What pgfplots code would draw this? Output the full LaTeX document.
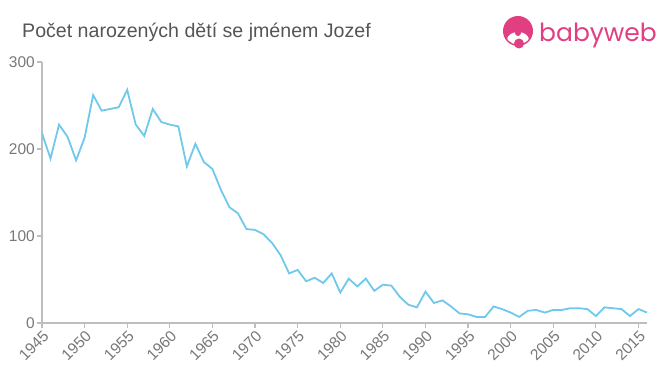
\documentclass[border=0pt]{standalone}
\usepackage{fontspec}
\setmainfont{Liberation Sans}
\newfontfamily\logofont{Poppins}
\usepackage{pgfplots}
\pgfplotsset{compat=1.18}
\definecolor{linec}{RGB}{112,201,234}
\definecolor{axisc}{RGB}{190,190,190}
\definecolor{textc}{RGB}{85,85,85}
\definecolor{tickc}{RGB}{120,120,120}
\definecolor{pinkc}{RGB}{226,62,130}
\begin{document}
\begin{tikzpicture}
\useasboundingbox (0pt,0pt) rectangle (660pt,375pt);
\node[anchor=base west, inner sep=0, text=textc, font=\fontsize{19.6}{22}\selectfont] at (22pt,337pt) {Počet narozených dětí se jménem Jozef};
% logo
\fill[pinkc] (518pt,344pt) circle (15pt);
\begin{scope}
\clip (518pt,344pt) circle (13.5pt);
\fill[white] (518pt,335pt) ellipse (11pt and 8pt);
\end{scope}
\fill[pinkc] (518pt,342pt) circle (3pt);
\fill[pinkc] (519pt,331.5pt) circle (5pt);
\node[anchor=base west, inner sep=0, text=pinkc, font=\logofont\fontsize{25}{28}\selectfont] at (539pt,333pt) {babyweb};
\begin{axis}[
  at={(42pt,52pt)}, anchor=south west,
  scale only axis, width=605pt, height=261pt,
  xmin=1945, xmax=2016, ymin=0, ymax=300,
  axis x line=bottom, axis y line=left,
  axis line style={-, axisc, line width=1.5pt},
  xtick={1945,1950,...,2015}, ytick={0,100,200,300},
  tick style={axisc, line width=1.2pt},
  tick align=outside, major tick length=5pt,
  x tick label style={rotate=45, anchor=north east, text=tickc, font=\fontsize{15.5}{15.5}\selectfont, inner sep=1pt},
  y tick label style={text=tickc, font=\fontsize{15.5}{15.5}\selectfont, inner sep=2pt},
  /pgf/number format/assume math mode=true,
  xticklabel={\pgfmathprintnumber[1000 sep={}]{\tick}},
  yticklabel={\pgfmathprintnumber{\tick}},
  clip=false,
]
\addplot[linec, line width=1.8pt, mark=none] coordinates {
(1945,218)(1946,189)(1947,228)(1948,214)(1949,187)(1950,213)(1951,262)(1952,244)(1953,246)(1954,248)
(1955,268)(1956,228)(1957,215)(1958,246)(1959,231)(1960,228)(1961,226)(1962,180)(1963,206)(1964,185)
(1965,177)(1966,153)(1967,133)(1968,126)(1969,108)(1970,107)(1971,102)(1972,92)(1973,78)(1974,57)
(1975,61)(1976,48)(1977,52)(1978,46)(1979,57)(1980,35)(1981,51)(1982,42)(1983,51)(1984,37)
(1985,44)(1986,43)(1987,30)(1988,21)(1989,18)(1990,36)(1991,23)(1992,26)(1993,19)(1994,11)
(1995,10)(1996,7)(1997,7)(1998,19)(1999,16)(2000,12)(2001,7)(2002,14)(2003,15)(2004,12)
(2005,15)(2006,15)(2007,17)(2008,17)(2009,16)(2010,8)(2011,18)(2012,17)(2013,16)(2014,8)
(2015,16)(2016,12)
};
\end{axis}
\end{tikzpicture}
\end{document}
